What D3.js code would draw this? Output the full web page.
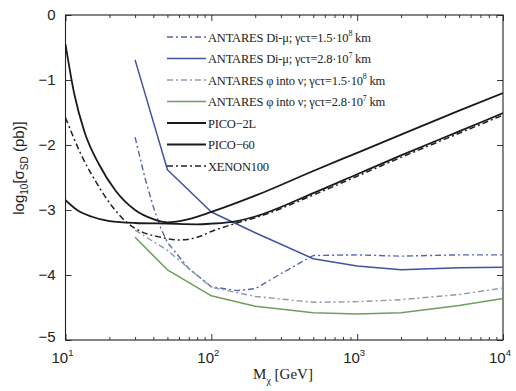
<!DOCTYPE html>
<html>
<head>
<meta charset="utf-8">
<script src="https://cdn.jsdelivr.net/npm/d3@7"></script>
<style>
  html, body { margin: 0; padding: 0; background: #fff; }
  svg { display: block; }
  .tick text { font-family: "Liberation Sans", Arial, sans-serif; }
</style>
</head>
<body>
<svg id="chart" width="516" height="391"></svg>
<script>
// Dark matter mass grid points (GeV) and log10 of the spin-dependent cross-section (pb)
const diMu15Mass   = [30, 35, 40, 45, 50, 70, 100, 150, 200, 300, 500, 1000, 2000, 5000, 10000];
const diMu15Sigma  = [-1.88, -2.5, -2.95, -3.28, -3.5, -3.9, -4.18, -4.24, -4.21, -3.98, -3.7, -3.69, -3.71, -3.69, -3.69];

const diMu28Mass   = [30, 50, 100, 200, 500, 1000, 2000, 5000, 10000];
const diMu28Sigma  = [-0.69, -2.38, -3.03, -3.35, -3.75, -3.86, -3.92, -3.89, -3.88];

const phiNu15Mass  = [30, 50, 100, 200, 500, 1000, 2000, 5000, 10000];
const phiNu15Sigma = [-3.31, -3.62, -4.19, -4.33, -4.42, -4.41, -4.38, -4.3, -4.2];

const phiNu28Mass  = [30, 50, 100, 200, 500, 1000, 2000, 5000, 10000];
const phiNu28Sigma = [-3.42, -3.92, -4.32, -4.48, -4.58, -4.6, -4.58, -4.47, -4.36];

const pico2lMass   = [10, 12, 15, 20, 30, 50, 80, 100, 150, 200, 500, 1000, 2000, 5000, 10000];
const pico2lSigma  = [-2.85, -3.0, -3.1, -3.17, -3.2, -3.21, -3.22, -3.21, -3.17, -3.1, -2.74, -2.45, -2.16, -1.79, -1.51];

const pico60Mass   = [10, 11.5, 13.5, 17, 22, 30, 40, 50, 70, 100, 200, 500, 1000, 2000, 5000, 10000];
const pico60Sigma  = [-0.45, -1.22, -1.8, -2.3, -2.7, -3.0, -3.14, -3.19, -3.14, -3.03, -2.78, -2.4, -2.12, -1.84, -1.47, -1.2];

const xenonMass    = [10, 13, 16, 21, 26, 33, 45, 60, 80, 100, 150, 200, 500, 1000, 2000, 5000, 10000];
const xenonSigma   = [-1.58, -2.18, -2.55, -2.95, -3.18, -3.33, -3.42, -3.46, -3.42, -3.33, -3.2, -3.12, -2.77, -2.48, -2.19, -1.82, -1.54];

const xMajorTicks  = [10, 100, 1000, 10000];
const xTickExps    = ["1", "2", "3", "4"];
const yTicks       = [-5, -4, -3, -2, -1, 0];

const series = [
  { name: "ANTARES Di-\u03bc; \u03b3c\u03c4=1.5\u00b710", exp: "8", unit: " km", mass: diMu15Mass, sigma: diMu15Sigma,
    color: "#5566b0", width: 1.4, dash: "6,3,2,3", curve: d3.curveLinear },
  { name: "ANTARES Di-\u03bc; \u03b3c\u03c4=2.8\u00b710", exp: "7", unit: " km", mass: diMu28Mass, sigma: diMu28Sigma,
    color: "#4152a0", width: 1.5, dash: null, curve: d3.curveLinear },
  { name: "ANTARES \u03c6 into \u03bd; \u03b3c\u03c4=1.5\u00b710", exp: "8", unit: " km", mass: phiNu15Mass, sigma: phiNu15Sigma,
    color: "#8c9cab", width: 1.4, dash: "6,3,2,3", curve: d3.curveLinear },
  { name: "ANTARES \u03c6 into \u03bd; \u03b3c\u03c4=2.8\u00b710", exp: "7", unit: " km", mass: phiNu28Mass, sigma: phiNu28Sigma,
    color: "#6f9e5c", width: 1.5, dash: null, curve: d3.curveLinear },
  { name: "PICO\u22122L", exp: null, unit: "", mass: pico2lMass, sigma: pico2lSigma,
    color: "#1a1a1a", width: 1.8, dash: null, curve: d3.curveMonotoneX },
  { name: "PICO\u221260", exp: null, unit: "", mass: pico60Mass, sigma: pico60Sigma,
    color: "#1a1a1a", width: 1.8, dash: null, curve: d3.curveMonotoneX },
  { name: "XENON100", exp: null, unit: "", mass: xenonMass, sigma: xenonSigma,
    color: "#222", width: 1.5, dash: "6,3,2,3", curve: d3.curveMonotoneX }
];

const svg = d3.select("#chart");
const plotL = 65.5, plotR = 503, plotT = 15, plotB = 340;

const x = d3.scaleLog().domain([10, 10000]).range([plotL, plotR]);
const y = d3.scaleLinear().domain([-5, 0]).range([plotB, plotT]);

svg.append("defs").append("clipPath").attr("id", "plot-clip")
  .append("rect").attr("x", plotL).attr("y", plotT)
  .attr("width", plotR - plotL).attr("height", plotB - plotT);

// Minor ticks at 2..9 within each decade
const xMinorTicks = [];
for (const d of [10, 100, 1000]) for (let k = 2; k <= 9; k++) xMinorTicks.push(d * k);

function styleAxis(g) {
  g.select(".domain").remove();
  g.selectAll(".tick line").attr("stroke", "#222").attr("stroke-width", 0.9);
}

// Major and minor ticks, pointing inward on all four sides
svg.append("g").attr("transform", `translate(0,${plotB})`)
  .call(d3.axisBottom(x).tickValues(xMajorTicks).tickSize(-6).tickFormat(""))
  .call(styleAxis);
svg.append("g").attr("transform", `translate(0,${plotB})`)
  .call(d3.axisBottom(x).tickValues(xMinorTicks).tickSize(-3).tickFormat(""))
  .call(styleAxis);
svg.append("g").attr("transform", `translate(0,${plotT})`)
  .call(d3.axisTop(x).tickValues(xMajorTicks).tickSize(-6).tickFormat(""))
  .call(styleAxis);
svg.append("g").attr("transform", `translate(0,${plotT})`)
  .call(d3.axisTop(x).tickValues(xMinorTicks).tickSize(-3).tickFormat(""))
  .call(styleAxis);

const yAxisG = svg.append("g").attr("transform", `translate(${plotL},0)`)
  .call(d3.axisLeft(y).tickValues(yTicks).tickSize(-6).tickPadding(10)
    .tickFormat(d => d < 0 ? "\u2212" + Math.abs(d) : String(d)))
  .call(styleAxis);
yAxisG.selectAll(".tick text").attr("font-size", 15).attr("fill", "#222").attr("dy", "0.3em");
yAxisG.select(".tick:first-of-type text").attr("dy", "0.1em");

svg.append("g").attr("transform", `translate(${plotR},0)`)
  .call(d3.axisRight(y).tickValues(yTicks).tickSize(-6).tickFormat(""))
  .call(styleAxis);

// Power-of-ten labels under the x axis
const xLab = svg.append("g").attr("font-family", "Liberation Sans, Arial, sans-serif")
  .attr("fill", "#222");
xMajorTicks.forEach((v, i) => {
  const t = xLab.append("text").attr("x", x(v) - 3).attr("y", 363)
    .attr("text-anchor", "middle").attr("font-size", 15);
  t.append("tspan").text("10");
  t.append("tspan").attr("dy", -7).attr("font-size", 9.5).text(xTickExps[i]);
});

// Plot frame
svg.append("rect").attr("x", plotL).attr("y", plotT)
  .attr("width", plotR - plotL).attr("height", plotB - plotT)
  .attr("fill", "none").attr("stroke", "#222").attr("stroke-width", 1.1);

// Curves
const plot = svg.append("g").attr("clip-path", "url(#plot-clip)");
series.forEach(s => {
  const pts = s.mass.map((m, i) => [m, s.sigma[i]]);
  const line = d3.line().x(d => x(d[0])).y(d => y(d[1])).curve(s.curve);
  plot.append("path").datum(pts).attr("d", line)
    .attr("fill", "none").attr("stroke", s.color).attr("stroke-width", s.width)
    .attr("stroke-dasharray", s.dash).attr("stroke-linejoin", "round");
});

// Legend
const legend = svg.append("g").attr("font-family", "Liberation Serif, 'Times New Roman', serif")
  .attr("font-size", 12.5).attr("fill", "#222");
series.forEach((s, i) => {
  const ly = 37 + i * 21.5;
  legend.append("line").attr("x1", 167).attr("x2", 206).attr("y1", ly).attr("y2", ly)
    .attr("stroke", s.color).attr("stroke-width", s.width).attr("stroke-dasharray", s.dash);
  const t = legend.append("text").attr("x", 208).attr("y", ly + 4.5).attr("letter-spacing", -0.2);
  t.append("tspan").text(s.name);
  if (s.exp) {
    t.append("tspan").attr("dy", -5.5).attr("font-size", 8).text(s.exp);
    t.append("tspan").attr("dy", 5.5).text(s.unit);
  }
});

// Axis titles
const xt = svg.append("text").attr("x", 283).attr("y", 379).attr("text-anchor", "middle")
  .attr("font-family", "Liberation Serif, 'Times New Roman', serif").attr("font-size", 15).attr("fill", "#222");
xt.append("tspan").text("M");
xt.append("tspan").attr("dy", 5).attr("font-size", 10).text("\u03c7");
xt.append("tspan").attr("dy", -5).text(" [GeV]");

const yt = svg.append("text").attr("transform", "translate(24,168) rotate(-90)")
  .attr("text-anchor", "middle").attr("font-family", "Liberation Sans, Arial, sans-serif")
  .attr("font-size", 15).attr("fill", "#222");
yt.append("tspan").text("log");
yt.append("tspan").attr("dy", 4).attr("font-size", 10).text("10");
yt.append("tspan").attr("dy", -4).text("[\u03c3");
yt.append("tspan").attr("dy", 4).attr("font-size", 10).text("SD");
yt.append("tspan").attr("dy", -4).text(" (pb)]");
</script>
</body>
</html>
